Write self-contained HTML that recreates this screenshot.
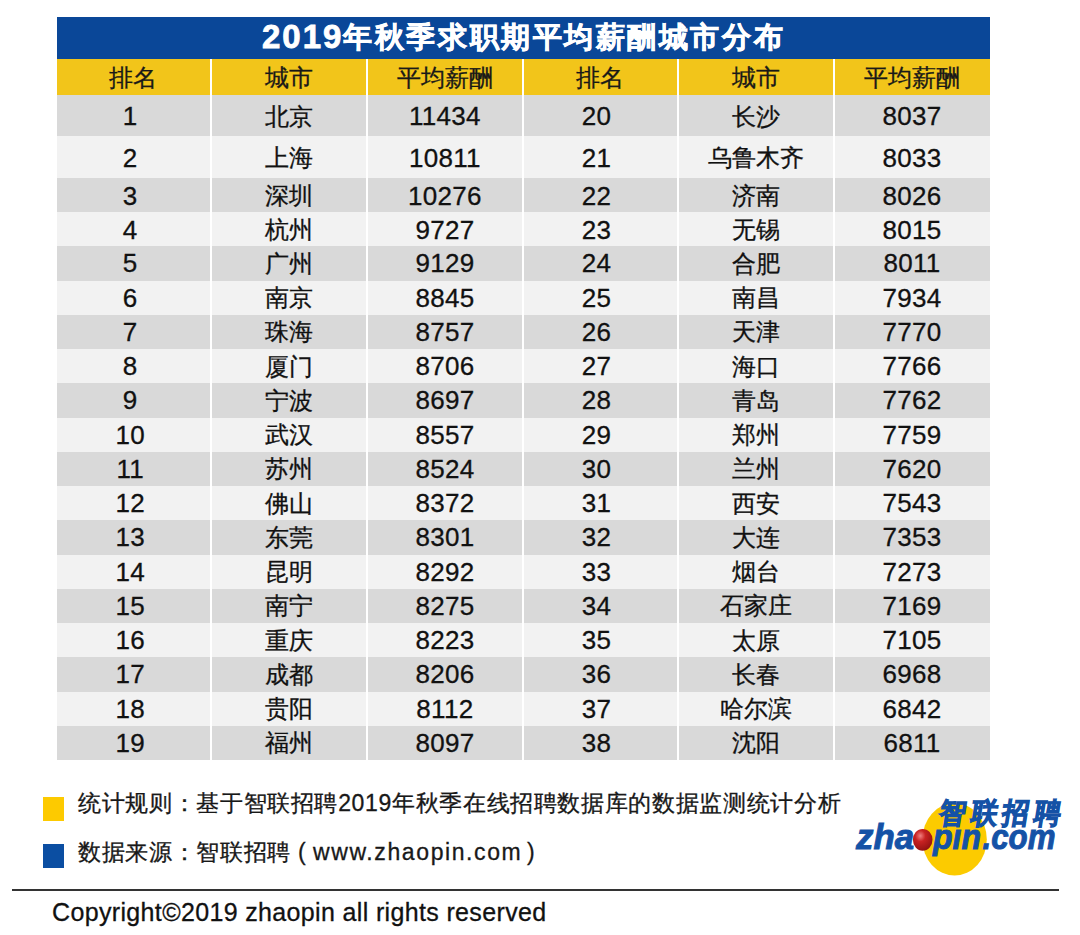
<!DOCTYPE html>
<html><head><meta charset="utf-8"><style>
html,body{margin:0;padding:0;width:1080px;height:935px;overflow:hidden;background:#fff;}
body{position:relative;font-family:"Liberation Sans",sans-serif;color:#111;-webkit-text-stroke:0.3px #111;}
.a{position:absolute;}
.title{left:57px;top:17px;width:933px;height:42px;background:#0a4798;color:#fff;font-weight:bold;font-size:29px;letter-spacing:2.55px;display:flex;align-items:center;justify-content:center;-webkit-text-stroke:0.6px #fff;padding-top:0px;box-sizing:border-box;}
.title .n{font-size:33px;letter-spacing:2px;-webkit-text-stroke:0.8px #fff;}
.hdr{left:57px;top:59px;width:932.5px;height:36px;background:#f2c51a;}
.row{left:57px;width:932.5px;}
.d{background:#d9d9d9}.l{background:#f2f2f2}
.sep{width:2px;background:#fff;}
.c{display:flex;align-items:center;justify-content:center;font-size:24px;white-space:nowrap;}
.n{font-size:26px;letter-spacing:0.3px;}
.h{font-size:24px;color:#1a1a1a;}
.leg{font-size:23px;letter-spacing:0.65px;white-space:nowrap;line-height:30px;color:#1a1a1a}
</style></head><body>
<div class="a title"><span style="margin-left:0px"><span class="n">2019</span><span style="position:relative;top:-1px">年秋季求职期平均薪酬城市分布</span></span></div>
<div class="a hdr"></div>

<div class="a row d" style="top:95px;height:41px"></div>
<div class="a row l" style="top:136px;height:42px"></div>
<div class="a row d" style="top:178px;height:34px"></div>
<div class="a row l" style="top:212px;height:34.25px"></div>
<div class="a row d" style="top:246.25px;height:34.25px"></div>
<div class="a row l" style="top:280.5px;height:34.25px"></div>
<div class="a row d" style="top:314.75px;height:34.25px"></div>
<div class="a row l" style="top:349.0px;height:34.25px"></div>
<div class="a row d" style="top:383.25px;height:34.25px"></div>
<div class="a row l" style="top:417.5px;height:34.25px"></div>
<div class="a row d" style="top:451.75px;height:34.25px"></div>
<div class="a row l" style="top:486.0px;height:34.25px"></div>
<div class="a row d" style="top:520.25px;height:34.25px"></div>
<div class="a row l" style="top:554.5px;height:34.25px"></div>
<div class="a row d" style="top:588.75px;height:34.25px"></div>
<div class="a row l" style="top:623.0px;height:34.25px"></div>
<div class="a row d" style="top:657.25px;height:34.25px"></div>
<div class="a row l" style="top:691.5px;height:34.25px"></div>
<div class="a row d" style="top:725.75px;height:34.25px"></div>
<div class="a sep" style="left:210.4px;top:59px;height:701px"></div>
<div class="a sep" style="left:366px;top:59px;height:701px"></div>
<div class="a sep" style="left:521.8px;top:59px;height:701px"></div>
<div class="a sep" style="left:677.2px;top:59px;height:701px"></div>
<div class="a sep" style="left:832.9px;top:59px;height:701px"></div>
<div class="a c h" style="left:56px;width:154.4px;top:60px;height:36px">排名</div>
<div class="a c h" style="left:211.4px;width:155.6px;top:60px;height:36px">城市</div>
<div class="a c h" style="left:367px;width:155.79999999999995px;top:60px;height:36px">平均薪酬</div>
<div class="a c h" style="left:522.8px;width:155.4000000000001px;top:60px;height:36px">排名</div>
<div class="a c h" style="left:678.2px;width:155.69999999999993px;top:60px;height:36px">城市</div>
<div class="a c h" style="left:833.9px;width:156.10000000000002px;top:60px;height:36px">平均薪酬</div>
<div class="a c" style="left:53px;width:154.4px;top:96px;height:41px"><span class="n">1</span></div>
<div class="a c" style="left:211.4px;width:155.6px;top:96px;height:41px">北京</div>
<div class="a c" style="left:367px;width:155.79999999999995px;top:96px;height:41px"><span class="n">11434</span></div>
<div class="a c" style="left:518.8px;width:155.4000000000001px;top:96px;height:41px"><span class="n">20</span></div>
<div class="a c" style="left:678.2px;width:155.69999999999993px;top:96px;height:41px">长沙</div>
<div class="a c" style="left:833.9px;width:156.10000000000002px;top:96px;height:41px"><span class="n">8037</span></div>
<div class="a c" style="left:53px;width:154.4px;top:137px;height:42px"><span class="n">2</span></div>
<div class="a c" style="left:211.4px;width:155.6px;top:137px;height:42px">上海</div>
<div class="a c" style="left:367px;width:155.79999999999995px;top:137px;height:42px"><span class="n">10811</span></div>
<div class="a c" style="left:518.8px;width:155.4000000000001px;top:137px;height:42px"><span class="n">21</span></div>
<div class="a c" style="left:678.2px;width:155.69999999999993px;top:137px;height:42px">乌鲁木齐</div>
<div class="a c" style="left:833.9px;width:156.10000000000002px;top:137px;height:42px"><span class="n">8033</span></div>
<div class="a c" style="left:53px;width:154.4px;top:179px;height:34px"><span class="n">3</span></div>
<div class="a c" style="left:211.4px;width:155.6px;top:179px;height:34px">深圳</div>
<div class="a c" style="left:367px;width:155.79999999999995px;top:179px;height:34px"><span class="n">10276</span></div>
<div class="a c" style="left:518.8px;width:155.4000000000001px;top:179px;height:34px"><span class="n">22</span></div>
<div class="a c" style="left:678.2px;width:155.69999999999993px;top:179px;height:34px">济南</div>
<div class="a c" style="left:833.9px;width:156.10000000000002px;top:179px;height:34px"><span class="n">8026</span></div>
<div class="a c" style="left:53px;width:154.4px;top:213px;height:34.25px"><span class="n">4</span></div>
<div class="a c" style="left:211.4px;width:155.6px;top:213px;height:34.25px">杭州</div>
<div class="a c" style="left:367px;width:155.79999999999995px;top:213px;height:34.25px"><span class="n">9727</span></div>
<div class="a c" style="left:518.8px;width:155.4000000000001px;top:213px;height:34.25px"><span class="n">23</span></div>
<div class="a c" style="left:678.2px;width:155.69999999999993px;top:213px;height:34.25px">无锡</div>
<div class="a c" style="left:833.9px;width:156.10000000000002px;top:213px;height:34.25px"><span class="n">8015</span></div>
<div class="a c" style="left:53px;width:154.4px;top:246.65px;height:34.25px"><span class="n">5</span></div>
<div class="a c" style="left:211.4px;width:155.6px;top:246.65px;height:34.25px">广州</div>
<div class="a c" style="left:367px;width:155.79999999999995px;top:246.65px;height:34.25px"><span class="n">9129</span></div>
<div class="a c" style="left:518.8px;width:155.4000000000001px;top:246.65px;height:34.25px"><span class="n">24</span></div>
<div class="a c" style="left:678.2px;width:155.69999999999993px;top:246.65px;height:34.25px">合肥</div>
<div class="a c" style="left:833.9px;width:156.10000000000002px;top:246.65px;height:34.25px"><span class="n">8011</span></div>
<div class="a c" style="left:53px;width:154.4px;top:280.9px;height:34.25px"><span class="n">6</span></div>
<div class="a c" style="left:211.4px;width:155.6px;top:280.9px;height:34.25px">南京</div>
<div class="a c" style="left:367px;width:155.79999999999995px;top:280.9px;height:34.25px"><span class="n">8845</span></div>
<div class="a c" style="left:518.8px;width:155.4000000000001px;top:280.9px;height:34.25px"><span class="n">25</span></div>
<div class="a c" style="left:678.2px;width:155.69999999999993px;top:280.9px;height:34.25px">南昌</div>
<div class="a c" style="left:833.9px;width:156.10000000000002px;top:280.9px;height:34.25px"><span class="n">7934</span></div>
<div class="a c" style="left:53px;width:154.4px;top:315.15px;height:34.25px"><span class="n">7</span></div>
<div class="a c" style="left:211.4px;width:155.6px;top:315.15px;height:34.25px">珠海</div>
<div class="a c" style="left:367px;width:155.79999999999995px;top:315.15px;height:34.25px"><span class="n">8757</span></div>
<div class="a c" style="left:518.8px;width:155.4000000000001px;top:315.15px;height:34.25px"><span class="n">26</span></div>
<div class="a c" style="left:678.2px;width:155.69999999999993px;top:315.15px;height:34.25px">天津</div>
<div class="a c" style="left:833.9px;width:156.10000000000002px;top:315.15px;height:34.25px"><span class="n">7770</span></div>
<div class="a c" style="left:53px;width:154.4px;top:349.4px;height:34.25px"><span class="n">8</span></div>
<div class="a c" style="left:211.4px;width:155.6px;top:349.4px;height:34.25px">厦门</div>
<div class="a c" style="left:367px;width:155.79999999999995px;top:349.4px;height:34.25px"><span class="n">8706</span></div>
<div class="a c" style="left:518.8px;width:155.4000000000001px;top:349.4px;height:34.25px"><span class="n">27</span></div>
<div class="a c" style="left:678.2px;width:155.69999999999993px;top:349.4px;height:34.25px">海口</div>
<div class="a c" style="left:833.9px;width:156.10000000000002px;top:349.4px;height:34.25px"><span class="n">7766</span></div>
<div class="a c" style="left:53px;width:154.4px;top:383.65px;height:34.25px"><span class="n">9</span></div>
<div class="a c" style="left:211.4px;width:155.6px;top:383.65px;height:34.25px">宁波</div>
<div class="a c" style="left:367px;width:155.79999999999995px;top:383.65px;height:34.25px"><span class="n">8697</span></div>
<div class="a c" style="left:518.8px;width:155.4000000000001px;top:383.65px;height:34.25px"><span class="n">28</span></div>
<div class="a c" style="left:678.2px;width:155.69999999999993px;top:383.65px;height:34.25px">青岛</div>
<div class="a c" style="left:833.9px;width:156.10000000000002px;top:383.65px;height:34.25px"><span class="n">7762</span></div>
<div class="a c" style="left:53px;width:154.4px;top:417.9px;height:34.25px"><span class="n">10</span></div>
<div class="a c" style="left:211.4px;width:155.6px;top:417.9px;height:34.25px">武汉</div>
<div class="a c" style="left:367px;width:155.79999999999995px;top:417.9px;height:34.25px"><span class="n">8557</span></div>
<div class="a c" style="left:518.8px;width:155.4000000000001px;top:417.9px;height:34.25px"><span class="n">29</span></div>
<div class="a c" style="left:678.2px;width:155.69999999999993px;top:417.9px;height:34.25px">郑州</div>
<div class="a c" style="left:833.9px;width:156.10000000000002px;top:417.9px;height:34.25px"><span class="n">7759</span></div>
<div class="a c" style="left:53px;width:154.4px;top:452.15px;height:34.25px"><span class="n">11</span></div>
<div class="a c" style="left:211.4px;width:155.6px;top:452.15px;height:34.25px">苏州</div>
<div class="a c" style="left:367px;width:155.79999999999995px;top:452.15px;height:34.25px"><span class="n">8524</span></div>
<div class="a c" style="left:518.8px;width:155.4000000000001px;top:452.15px;height:34.25px"><span class="n">30</span></div>
<div class="a c" style="left:678.2px;width:155.69999999999993px;top:452.15px;height:34.25px">兰州</div>
<div class="a c" style="left:833.9px;width:156.10000000000002px;top:452.15px;height:34.25px"><span class="n">7620</span></div>
<div class="a c" style="left:53px;width:154.4px;top:486.4px;height:34.25px"><span class="n">12</span></div>
<div class="a c" style="left:211.4px;width:155.6px;top:486.4px;height:34.25px">佛山</div>
<div class="a c" style="left:367px;width:155.79999999999995px;top:486.4px;height:34.25px"><span class="n">8372</span></div>
<div class="a c" style="left:518.8px;width:155.4000000000001px;top:486.4px;height:34.25px"><span class="n">31</span></div>
<div class="a c" style="left:678.2px;width:155.69999999999993px;top:486.4px;height:34.25px">西安</div>
<div class="a c" style="left:833.9px;width:156.10000000000002px;top:486.4px;height:34.25px"><span class="n">7543</span></div>
<div class="a c" style="left:53px;width:154.4px;top:520.65px;height:34.25px"><span class="n">13</span></div>
<div class="a c" style="left:211.4px;width:155.6px;top:520.65px;height:34.25px">东莞</div>
<div class="a c" style="left:367px;width:155.79999999999995px;top:520.65px;height:34.25px"><span class="n">8301</span></div>
<div class="a c" style="left:518.8px;width:155.4000000000001px;top:520.65px;height:34.25px"><span class="n">32</span></div>
<div class="a c" style="left:678.2px;width:155.69999999999993px;top:520.65px;height:34.25px">大连</div>
<div class="a c" style="left:833.9px;width:156.10000000000002px;top:520.65px;height:34.25px"><span class="n">7353</span></div>
<div class="a c" style="left:53px;width:154.4px;top:554.9px;height:34.25px"><span class="n">14</span></div>
<div class="a c" style="left:211.4px;width:155.6px;top:554.9px;height:34.25px">昆明</div>
<div class="a c" style="left:367px;width:155.79999999999995px;top:554.9px;height:34.25px"><span class="n">8292</span></div>
<div class="a c" style="left:518.8px;width:155.4000000000001px;top:554.9px;height:34.25px"><span class="n">33</span></div>
<div class="a c" style="left:678.2px;width:155.69999999999993px;top:554.9px;height:34.25px">烟台</div>
<div class="a c" style="left:833.9px;width:156.10000000000002px;top:554.9px;height:34.25px"><span class="n">7273</span></div>
<div class="a c" style="left:53px;width:154.4px;top:589.15px;height:34.25px"><span class="n">15</span></div>
<div class="a c" style="left:211.4px;width:155.6px;top:589.15px;height:34.25px">南宁</div>
<div class="a c" style="left:367px;width:155.79999999999995px;top:589.15px;height:34.25px"><span class="n">8275</span></div>
<div class="a c" style="left:518.8px;width:155.4000000000001px;top:589.15px;height:34.25px"><span class="n">34</span></div>
<div class="a c" style="left:678.2px;width:155.69999999999993px;top:589.15px;height:34.25px">石家庄</div>
<div class="a c" style="left:833.9px;width:156.10000000000002px;top:589.15px;height:34.25px"><span class="n">7169</span></div>
<div class="a c" style="left:53px;width:154.4px;top:623.4px;height:34.25px"><span class="n">16</span></div>
<div class="a c" style="left:211.4px;width:155.6px;top:623.4px;height:34.25px">重庆</div>
<div class="a c" style="left:367px;width:155.79999999999995px;top:623.4px;height:34.25px"><span class="n">8223</span></div>
<div class="a c" style="left:518.8px;width:155.4000000000001px;top:623.4px;height:34.25px"><span class="n">35</span></div>
<div class="a c" style="left:678.2px;width:155.69999999999993px;top:623.4px;height:34.25px">太原</div>
<div class="a c" style="left:833.9px;width:156.10000000000002px;top:623.4px;height:34.25px"><span class="n">7105</span></div>
<div class="a c" style="left:53px;width:154.4px;top:657.65px;height:34.25px"><span class="n">17</span></div>
<div class="a c" style="left:211.4px;width:155.6px;top:657.65px;height:34.25px">成都</div>
<div class="a c" style="left:367px;width:155.79999999999995px;top:657.65px;height:34.25px"><span class="n">8206</span></div>
<div class="a c" style="left:518.8px;width:155.4000000000001px;top:657.65px;height:34.25px"><span class="n">36</span></div>
<div class="a c" style="left:678.2px;width:155.69999999999993px;top:657.65px;height:34.25px">长春</div>
<div class="a c" style="left:833.9px;width:156.10000000000002px;top:657.65px;height:34.25px"><span class="n">6968</span></div>
<div class="a c" style="left:53px;width:154.4px;top:691.9px;height:34.25px"><span class="n">18</span></div>
<div class="a c" style="left:211.4px;width:155.6px;top:691.9px;height:34.25px">贵阳</div>
<div class="a c" style="left:367px;width:155.79999999999995px;top:691.9px;height:34.25px"><span class="n">8112</span></div>
<div class="a c" style="left:518.8px;width:155.4000000000001px;top:691.9px;height:34.25px"><span class="n">37</span></div>
<div class="a c" style="left:678.2px;width:155.69999999999993px;top:691.9px;height:34.25px">哈尔滨</div>
<div class="a c" style="left:833.9px;width:156.10000000000002px;top:691.9px;height:34.25px"><span class="n">6842</span></div>
<div class="a c" style="left:53px;width:154.4px;top:726.15px;height:34.25px"><span class="n">19</span></div>
<div class="a c" style="left:211.4px;width:155.6px;top:726.15px;height:34.25px">福州</div>
<div class="a c" style="left:367px;width:155.79999999999995px;top:726.15px;height:34.25px"><span class="n">8097</span></div>
<div class="a c" style="left:518.8px;width:155.4000000000001px;top:726.15px;height:34.25px"><span class="n">38</span></div>
<div class="a c" style="left:678.2px;width:155.69999999999993px;top:726.15px;height:34.25px">沈阳</div>
<div class="a c" style="left:833.9px;width:156.10000000000002px;top:726.15px;height:34.25px"><span class="n">6811</span></div>

<div class="a" style="left:43px;top:797px;width:21px;height:24px;background:#fdca00"></div>
<div class="a" style="left:43px;top:844px;width:21px;height:24px;background:#0b4ea2"></div>
<div class="a leg" style="left:78px;top:788px">统计规则：基于智联招聘2019年秋季在线招聘数据库的数据监测统计分析</div>
<div class="a leg" style="left:78px;top:837px">数据来源：智联招聘</div>
<div class="a leg" id="lp" style="left:298px;top:837px;letter-spacing:0">(</div>
<div class="a leg" id="url" style="left:313px;top:837px;letter-spacing:1.6px">www.zhaopin.com</div>
<div class="a leg" id="rp" style="left:527px;top:837px;letter-spacing:0">)</div>
<div class="a" style="left:12px;top:889px;width:1047px;height:2px;background:#333"></div>
<div class="a" style="left:52px;top:897px;font-size:25px;white-space:nowrap;line-height:30px;letter-spacing:0.35px;color:#111">Copyright©2019 zhaopin all rights reserved</div>
<svg class="a" style="left:840px;top:780px" width="240" height="110" viewBox="840 780 240 110">
<defs><radialGradient id="rb" cx="0.38" cy="0.32" r="0.75"><stop offset="0" stop-color="#f08080"/><stop offset="0.35" stop-color="#c82222"/><stop offset="1" stop-color="#8c1010"/></radialGradient></defs>
<ellipse cx="954.6" cy="839.3" rx="32.2" ry="36.2" fill="#fccb00"/>
<g transform="translate(0,840) scale(1,1.1) translate(0,-840)" fill="#1552a6" font-family="Liberation Sans" font-weight="bold" style="-webkit-text-stroke:0">
<text x="856" y="848.3" font-style="italic" font-size="32" stroke="#1552a6" stroke-width="0.9" textLength="58" lengthAdjust="spacingAndGlyphs">zha</text>
<text x="933" y="848.3" font-style="italic" font-size="32" stroke="#1552a6" stroke-width="0.9" textLength="48" lengthAdjust="spacingAndGlyphs">p&#305;n</text>
<text x="982.5" y="848.3" font-style="italic" font-size="32" stroke="#1552a6" stroke-width="0.9" textLength="73" lengthAdjust="spacingAndGlyphs">.com</text>
<g transform="translate(999,812) skewX(-10) translate(-999,-812)"><text x="940.5" y="825" font-size="26.5" textLength="121" lengthAdjust="spacing" stroke="#1552a6" stroke-width="1">智联招聘</text></g>
</g>
<ellipse cx="922.7" cy="839.8" rx="9.8" ry="10.9" fill="url(#rb)"/>
</svg>
</body></html>
